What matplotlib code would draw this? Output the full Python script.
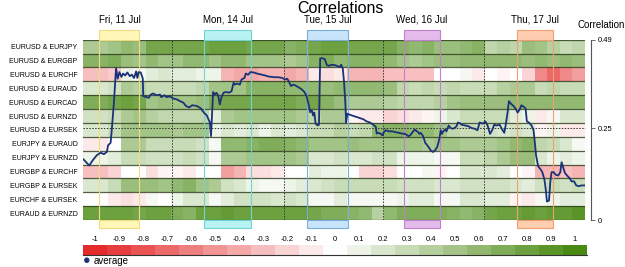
import matplotlib
matplotlib.use('Agg')
import matplotlib.pyplot as plt
import matplotlib.transforms as mtransforms
from matplotlib.colors import LinearSegmentedColormap
from matplotlib.patches import Rectangle
import numpy as np

plt.rcParams['font.family'] = ['Liberation Sans', 'DejaVu Sans']

pairs = ['EURUSD & EURJPY', 'EURUSD & EURGBP', 'EURUSD & EURCHF', 'EURUSD & EURAUD',
         'EURUSD & EURCAD', 'EURUSD & EURNZD', 'EURUSD & EURSEK', 'EURJPY & EURAUD',
         'EURJPY & EURNZD', 'EURGBP & EURCHF', 'EURGBP & EURSEK', 'EURCHF & EURSEK',
         'EURAUD & EURNZD']

# correlation per 3-hour block (40 blocks = 120 hours)
usd_jpy = [0.45, 0.45, 0.5, 0.6, 0.55, 0.75, 0.75, 0.75, 0.75, 0.75,
           0.8, 0.8, 0.8, 0.75, 0.75, 0.75, 0.65, 0.7, 0.75, 0.8,
           0.8, 0.75, 0.75, 0.75, 0.75, 0.65, 0.6, 0.65, 0.55, 0.55,
           0.6, 0.65, 0.35, 0.4, 0.35, 0.55, 0.5, 0.4, 0.3, 0.35]
usd_gbp = [0.65, 0.65, 0.7, 0.55, 0.5, 0.6, 0.5, 0.5, 0.6, 0.6,
           0.5, 0.6, 0.6, 0.5, 0.5, 0.5, 0.45, 0.5, 0.65, 0.7,
           0.6, 0.65, 0.65, 0.65, 0.6, 0.5, 0.45, 0.5, 0.55, 0.55,
           0.6, 0.6, 0.6, 0.6, 0.6, 0.55, 0.6, 0.55, 0.6, 0.55]
usd_chf = [-0.3, -0.3, -0.25, 0.1, 0.05, 0.15, 0.2, 0.15, 0.15, 0.1,
           0.1, -0.35, -0.4, -0.4, -0.35, -0.35, -0.4, -0.35, -0.1, -0.15,
           -0.1, -0.35, -0.35, -0.35, -0.3, -0.3, -0.3, -0.3, 0.0, 0.0,
           0.05, -0.1, 0.0, -0.05, 0.0, -0.2, -0.55, -0.7, -0.55, -0.45]
usd_aud = [0.2, 0.2, 0.25, 0.45, 0.4, 0.3, 0.3, 0.3, 0.3, 0.35,
           0.5, 0.5, 0.5, 0.65, 0.65, 0.65, 0.6, 0.6, 0.6, 0.55,
           0.6, 0.6, 0.6, 0.6, 0.55, 0.35, 0.3, 0.35, 0.3, 0.35,
           0.3, 0.3, 0.3, 0.4, 0.45, 0.45, 0.3, 0.35, 0.3, 0.3]
usd_cad = [0.7, 0.7, 0.75, 0.8, 0.75, 0.5, 0.55, 0.5, 0.5, 0.55,
           0.7, 0.75, 0.75, 0.75, 0.75, 0.75, 0.75, 0.7, 0.75, 0.65,
           0.55, 0.45, 0.45, 0.45, 0.4, 0.35, 0.35, 0.35, 0.4, 0.5,
           0.55, 0.55, 0.55, 0.55, 0.6, 0.6, 0.6, 0.6, 0.6, 0.6]
usd_nzd = [0.25, 0.25, 0.3, 0.45, 0.5, 0.4, 0.35, 0.35, 0.35, 0.35,
           0.15, 0.45, 0.5, 0.5, 0.5, 0.5, 0.5, 0.45, 0.35, 0.45,
           0.45, -0.05, -0.1, -0.1, -0.2, -0.15, -0.1, -0.05, 0.1, 0.2,
           0.3, 0.3, 0.3, 0.3, 0.15, 0.1, -0.1, 0.05, 0.2, 0.2]
usd_sek = [0.2, 0.2, 0.3, 0.5, 0.5, 0.5, 0.5, 0.45, 0.5, 0.5,
           0.1, 0.2, 0.15, 0.2, 0.1, 0.2, 0.15, 0.2, 0.3, 0.3,
           0.4, 0.3, 0.35, 0.6, 0.65, 0.65, 0.6, 0.6, 0.5, 0.35,
           0.3, 0.3, 0.25, 0.2, 0.25, 0.2, -0.05, 0.1, -0.1, -0.1]
jpy_aud = [-0.1, -0.1, 0.0, 0.45, 0.45, 0.3, 0.3, 0.3, 0.3, 0.25,
           0.05, 0.6, 0.6, 0.65, 0.7, 0.7, 0.65, 0.6, 0.5, 0.5,
           0.5, 0.55, 0.5, 0.5, 0.5, 0.5, 0.5, 0.45, 0.5, 0.5,
           0.45, 0.45, 0.45, 0.5, 0.6, 0.65, 0.35, 0.3, 0.2, 0.05]
jpy_nzd = [0.1, 0.1, 0.15, 0.3, 0.3, 0.25, 0.25, 0.25, 0.3, 0.25,
           0.05, 0.45, 0.45, 0.5, 0.5, 0.5, 0.5, 0.45, 0.2, 0.2,
           0.25, 0.2, 0.2, 0.25, 0.25, 0.1, 0.1, 0.1, 0.05, 0.05,
           0.3, 0.3, 0.35, 0.45, 0.55, 0.55, 0.2, 0.1, 0.15, 0.1]
gbp_chf = [-0.3, -0.3, -0.2, 0.0, 0.0, -0.15, -0.05, -0.05, -0.1, 0.0,
           0.0, -0.45, -0.35, -0.15, -0.15, -0.1, 0.0, 0.0, 0.15, 0.1,
           0.1, 0.0, -0.2, -0.2, -0.15, 0.0, 0.0, 0.05, -0.05, 0.0,
           0.2, 0.2, 0.2, 0.15, 0.0, -0.05, -0.35, -0.35, -0.3, -0.35]
gbp_sek = [0.2, 0.2, 0.3, 0.55, 0.55, 0.55, 0.5, 0.6, 0.65, 0.5,
           0.45, 0.25, 0.2, 0.1, 0.05, 0.05, 0.1, 0.15, 0.2, 0.25,
           0.3, 0.3, 0.3, 0.3, 0.3, 0.25, 0.25, 0.25, 0.2, 0.2,
           0.25, 0.25, 0.25, 0.25, 0.2, 0.15, 0.25, 0.3, 0.25, 0.3]
chf_sek = [0.0, 0.0, -0.1, -0.15, -0.1, 0.05, 0.0, 0.1, 0.2, 0.2,
           0.05, 0.15, 0.25, 0.25, 0.25, 0.2, 0.25, 0.2, 0.05, 0.05,
           0.15, 0.05, 0.05, 0.05, 0.05, 0.1, 0.15, 0.15, 0.05, 0.05,
           0.2, 0.2, 0.15, 0.15, -0.05, -0.1, 0.05, 0.1, 0.15, 0.15]
aud_nzd = [0.8, 0.8, 0.8, 0.8, 0.75, 0.8, 0.8, 0.7, 0.65, 0.8,
           0.8, 0.85, 0.8, 0.8, 0.8, 0.8, 0.8, 0.8, 0.75, 0.7,
           0.7, 0.65, 0.6, 0.4, 0.6, 0.7, 0.7, 0.7, 0.7, 0.65,
           0.6, 0.65, 0.75, 0.8, 0.8, 0.85, 0.8, 0.85, 0.85, 0.9]

# average correlation line (hour, value)
avg_hours = [0.1, 1.5, 2.3, 3.3, 4.2, 5.0, 5.7, 6.0, 6.6, 6.9, 7.4, 7.9, 8.3, 8.7, 9.2, 9.6,
             10.1, 10.6, 11.2, 11.7, 12.2, 12.7, 13.0, 13.3, 13.8, 14.3, 14.4, 15.2, 15.7, 16.2,
             16.8, 17.6, 18.4, 18.7, 19.4, 20.0, 20.8, 21.6, 22.4, 23.2, 24.0, 24.6, 25.4, 26.1,
             27.2, 28.1, 28.9, 29.6, 30.3, 30.6, 30.9, 31.1, 31.5, 31.9, 32.3, 32.7, 33.1, 33.6,
             34.2, 34.9, 35.5, 36.0, 36.3, 36.8, 37.5, 37.9, 38.6, 38.9, 39.5, 40.0, 40.8, 41.6,
             42.7, 43.5, 44.3, 45.1, 45.9, 46.8, 47.6, 48.3, 48.8, 49.2, 49.7, 50.2, 50.7, 51.5,
             52.3, 52.9, 53.4, 53.8, 54.3, 54.7, 55.0, 55.3, 55.6, 56.1, 56.4, 56.7, 57.2, 57.8,
             58.3, 58.8, 59.3, 60.2, 61.4, 61.7, 62.1, 62.4, 62.7, 62.9, 63.2, 63.8, 64.6, 65.4,
             66.2, 67.0, 67.8, 68.6, 69.4, 70.0, 70.2, 70.7, 71.2, 71.6, 71.9, 72.4, 73.1, 73.9,
             74.6, 75.5, 76.2, 77.0, 77.8, 78.2, 78.8, 79.3, 79.6, 80.1, 80.4, 80.7, 81.2, 81.5,
             81.8, 82.3, 82.8, 83.2, 83.7, 84.2, 84.7, 85.2, 85.5, 85.8, 86.1, 86.6, 86.9, 87.4,
             87.9, 88.4, 88.8, 89.3, 89.6, 90.1, 90.5, 91.3, 92.1, 92.9, 93.7, 94.3, 94.8, 95.6,
             96.2, 96.7, 97.3, 97.8, 98.3, 98.9, 99.6, 100.1, 100.7, 101.0, 101.5, 101.8, 102.3,
             102.9, 103.4, 103.9, 104.4, 104.8, 105.3, 105.8, 106.1, 106.6, 107.2, 107.7, 108.0,
             108.3, 108.8, 109.3, 109.8, 110.3, 110.6, 110.9, 111.4, 111.7, 112.0, 112.5, 113.0,
             113.6, 114.1, 114.4, 114.7, 115.2, 115.7, 116.3, 116.8, 117.4, 117.9, 118.5, 119.2,
             120.0]
avg_values = [0.165, 0.148, 0.162, 0.176, 0.183, 0.179, 0.185, 0.203, 0.210, 0.248, 0.321, 0.413,
              0.384, 0.402, 0.389, 0.398, 0.393, 0.401, 0.391, 0.395, 0.386, 0.404, 0.386, 0.402,
              0.401, 0.384, 0.337, 0.334, 0.332, 0.341, 0.344, 0.339, 0.341, 0.334, 0.339, 0.334,
              0.336, 0.330, 0.328, 0.323, 0.319, 0.310, 0.306, 0.312, 0.310, 0.304, 0.292, 0.284,
              0.266, 0.228, 0.303, 0.348, 0.341, 0.346, 0.339, 0.314, 0.334, 0.346, 0.348, 0.346,
              0.350, 0.373, 0.368, 0.371, 0.368, 0.382, 0.386, 0.398, 0.395, 0.402, 0.401, 0.398,
              0.395, 0.393, 0.390, 0.389, 0.388, 0.388, 0.386, 0.382, 0.384, 0.377, 0.364, 0.368,
              0.366, 0.361, 0.355, 0.348, 0.339, 0.321, 0.293, 0.298, 0.284, 0.292, 0.262, 0.257,
              0.259, 0.439, 0.440, 0.437, 0.421, 0.419, 0.422, 0.421, 0.416, 0.422, 0.412, 0.375,
              0.321, 0.265, 0.289, 0.286, 0.283, 0.280, 0.277, 0.274, 0.268, 0.265, 0.259, 0.253,
              0.235, 0.237, 0.234, 0.230, 0.239, 0.244, 0.241, 0.241, 0.239, 0.237, 0.235, 0.234,
              0.228, 0.230, 0.239, 0.246, 0.243, 0.239, 0.234, 0.237, 0.230, 0.221, 0.210, 0.203,
              0.195, 0.188, 0.185, 0.190, 0.199, 0.221, 0.244, 0.234, 0.241, 0.246, 0.241, 0.257,
              0.250, 0.248, 0.250, 0.255, 0.265, 0.263, 0.259, 0.257, 0.255, 0.250, 0.248, 0.244,
              0.265, 0.262, 0.268, 0.257, 0.234, 0.244, 0.259, 0.257, 0.259, 0.248, 0.237, 0.255,
              0.293, 0.323, 0.316, 0.310, 0.303, 0.292, 0.301, 0.312, 0.308, 0.303, 0.268, 0.265,
              0.257, 0.244, 0.212, 0.176, 0.146, 0.139, 0.130, 0.110, 0.085, 0.050, 0.053, 0.103,
              0.130, 0.130, 0.123, 0.121, 0.130, 0.157, 0.146, 0.128, 0.121, 0.114, 0.105, 0.105,
              0.094, 0.092, 0.094, 0.094]

day_labels = ['Fri, 11 Jul', 'Mon, 14 Jul', 'Tue, 15 Jul', 'Wed, 16 Jul', 'Thu, 17 Jul']
day_start = [3.9, 29.0, 53.6, 76.8, 103.8]
day_end = [13.5, 40.1, 63.3, 85.3, 112.4]
day_fill = ['#fff6b8', '#b8f2f2', '#c8e4fa', '#e4bcec', '#ffcdb0']
day_edge = ['#f0dc80', '#70d4d4', '#7aaed8', '#c080cc', '#f0a070']
day_breaks = [21.3, 48.0, 71.7, 95.8, 119.9]

cb_values = [-1, -0.9, -0.8, -0.7, -0.6, -0.5, -0.4, -0.3, -0.2, -0.1, 0,
             0.1, 0.2, 0.3, 0.4, 0.5, 0.6, 0.7, 0.8, 0.9, 1]

cmap = LinearSegmentedColormap.from_list('rg', ['#e42a2a', '#ffffff', '#4a8a12'])

corr = np.array([usd_jpy, usd_gbp, usd_chf, usd_aud, usd_cad, usd_nzd, usd_sek,
                 jpy_aud, jpy_nzd, gbp_chf, gbp_sek, chf_sek, aud_nzd])
n_rows, n_cols = corr.shape
x_edges = np.linspace(0, 120, n_cols + 1)
y_edges = np.arange(n_rows + 1)

fig = plt.figure(figsize=(6.25, 2.67), dpi=100)
ax = fig.add_axes([0.1328, 0.176, 0.8032, 0.6752])
ax.pcolormesh(x_edges, y_edges, corr, cmap=cmap, vmin=-1, vmax=1)
ax.set_xlim(0, 120)
ax.set_ylim(n_rows, 0)
for yy in y_edges:
    ax.axhline(yy, color='#2b3a1c', lw=0.9, alpha=0.8)
for xb in day_breaks:
    ax.axvline(xb, color='#333333', lw=0.7, ls=(0, (1.5, 1.5)))
ax.set_xticks([])
ax.set_yticks(np.arange(n_rows) + 0.5)
ax.set_yticklabels(pairs)
ax.tick_params(axis='y', length=0, pad=4, labelsize=5)
for s in ax.spines.values():
    s.set_visible(False)

# day tabs above and below the heatmap
trans = mtransforms.blended_transform_factory(ax.transData, ax.transAxes)
for lab, a, b, fc, ec in zip(day_labels, day_start, day_end, day_fill, day_edge):
    ax.add_patch(Rectangle((a, 1.0), b - a, 0.052, transform=trans, fc=fc, ec=ec,
                           lw=0.8, clip_on=False, zorder=3))
    ax.add_patch(Rectangle((a, -0.046), b - a, 0.046, transform=trans, fc=fc, ec=ec,
                           lw=0.8, clip_on=False, zorder=3))
    ax.plot([a, a], [0, 1], transform=trans, color=ec, lw=0.8, zorder=3)
    ax.plot([b, b], [0, 1], transform=trans, color=ec, lw=0.8, zorder=3)
    ax.text((a + b) / 2, 1.11, lab, transform=trans, ha='center', va='center', fontsize=7)

# average line on right axis
ax2 = fig.add_axes(ax.get_position())
ax2.patch.set_visible(False)
ax2.plot(avg_hours, avg_values, color='#1a3278', lw=1.3, zorder=5)
ax2.axhline(0.25, color='#333333', lw=0.7, ls=(0, (1.5, 1.5)), clip_on=False)
ax2.set_xlim(0, 120)
ax2.set_ylim(0, 0.49)
ax2.set_xticks([])
ax2.yaxis.tick_right()
ax2.set_yticks([0, 0.25, 0.49])
ax2.set_yticklabels(['0', '0.25', '0.49'])
ax2.tick_params(axis='y', length=3, width=0.6, pad=2, color='#555555', labelsize=5.5)
for k in ['left', 'top', 'bottom']:
    ax2.spines[k].set_visible(False)
ax2.spines['right'].set_position(('outward', 4))
ax2.spines['right'].set_color('#555555')
ax2.spines['right'].set_linewidth(0.8)
fig.text(0.962, 0.905, 'Correlation', ha='center', va='center', fontsize=7)

fig.text(0.545, 0.968, 'Correlations', ha='center', va='center', fontsize=11.5)

# colour scale
cax = fig.add_axes([0.1328, 0.046, 0.8064, 0.035])
cax.imshow([cb_values], cmap=cmap, vmin=-1, vmax=1, aspect='auto',
           extent=[-1.05, 1.05, 0, 1])
cax.set_xlim(-1.05, 1.05)
cax.set_yticks([])
cax.xaxis.tick_top()
cax.set_xticks(cb_values)
cax.set_xticklabels([f'{v:g}' for v in cb_values])
cax.tick_params(axis='x', length=0, pad=1.5, labelsize=5.5)
for k in ['left', 'top', 'right']:
    cax.spines[k].set_visible(False)
cax.spines['bottom'].set_color('#333333')
cax.spines['bottom'].set_linewidth(0.8)

fig.text(0.1392, 0.022, '\u25cf', color='#1a3278', ha='center', va='center', fontsize=9)
fig.text(0.150, 0.022, 'average', ha='left', va='center', fontsize=7)

fig.savefig('out.png', dpi=100)
